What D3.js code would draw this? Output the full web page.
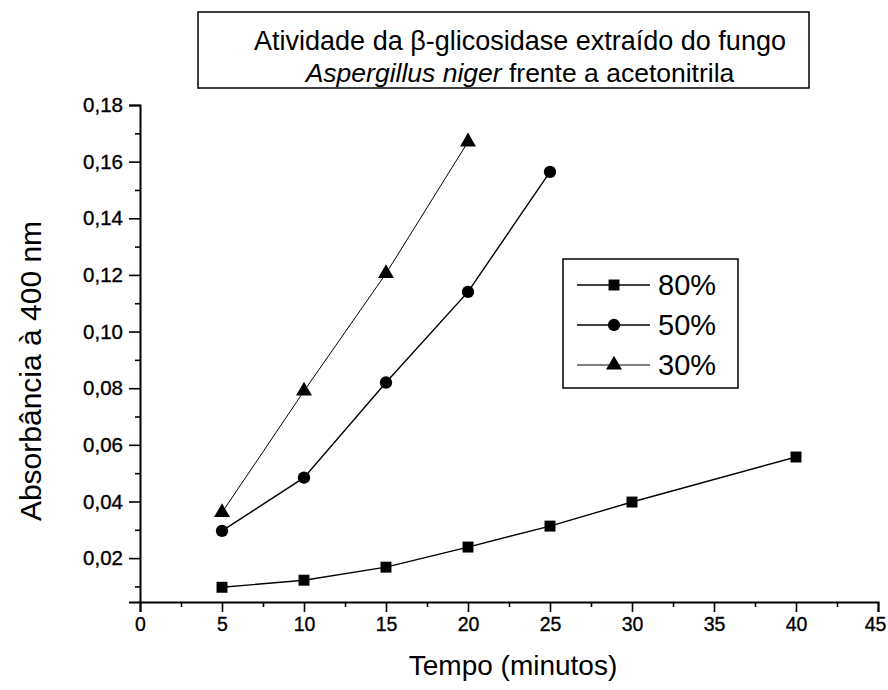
<!DOCTYPE html>
<html><head><meta charset="utf-8">
<script src="https://cdn.jsdelivr.net/npm/d3@7"></script>
<style>
body{margin:0;background:#fff;}
svg{display:block;font-family:"Liberation Sans",Arial,sans-serif;}
</style></head>
<body>
<svg id="c" width="888" height="690"></svg>
<script>
const times80 = [5, 10, 15, 20, 25, 30, 40];
const values80 = [0.0097, 0.0122, 0.0168, 0.0239, 0.0313, 0.0398, 0.0557];
const times50 = [5, 10, 15, 20, 25];
const values50 = [0.0296, 0.0484, 0.0820, 0.1140, 0.1564];
const times30 = [5, 10, 15, 20];
const values30 = [0.0361, 0.0790, 0.1205, 0.1670];
const seriesLabels = ["80%", "50%", "30%"];
const xTicks = [0, 5, 10, 15, 20, 25, 30, 35, 40, 45];
const yTicks = [0.02, 0.04, 0.06, 0.08, 0.10, 0.12, 0.14, 0.16, 0.18];
const titleLine1 = "Atividade da β-glicosidase extraído do fungo";
const titleItalic = "Aspergillus niger";
const titleRest = " frente a acetonitrila";
const xLabel = "Tempo (minutos)";
const yLabel = "Absorbância à 400 nm";

const FONT = "Liberation Sans, Arial, sans-serif";
const svg = d3.select("#c");
const x = d3.scaleLinear().domain([0, 45]).range([140, 878]);
const y = d3.scaleLinear().domain([0.0045, 0.18]).range([602, 105]);

const fmt = v => d3.format(".2f")(v).replace(".", ",");
const xMinor = d3.range(2.5, 45, 5);
const yMinor = d3.range(0.01, 0.18, 0.02);

const gx = svg.append("g").attr("transform", "translate(0,602)");
gx.call(d3.axisBottom(x).tickValues(xMinor).tickSize(5).tickFormat(""))
  .call(g => g.select(".domain").remove());
gx.append("g").call(d3.axisBottom(x).tickValues(xTicks).tickSize(10).tickPadding(5).tickFormat(d3.format("d")))
  .call(g => g.selectAll("text").attr("font-size", 19.5).attr("fill", "#000").attr("font-family", FONT)
    .attr("stroke", "#000").attr("stroke-width", 0.35))
  .call(g => g.selectAll(".tick").filter(d => d === 45).select("text").attr("dx", -3));

const gy = svg.append("g").attr("transform", "translate(140,0)");
gy.call(d3.axisLeft(y).tickValues(yMinor).tickSize(5).tickFormat(""))
  .call(g => g.select(".domain").remove());
gy.append("g").call(d3.axisLeft(y).tickValues(yTicks).tickSize(11).tickPadding(6).tickFormat(fmt))
  .call(g => g.selectAll("text").attr("font-size", 20.5).attr("fill", "#000").attr("font-family", FONT)
    .attr("stroke", "#000").attr("stroke-width", 0.35));
svg.selectAll(".domain").attr("stroke", "#000").attr("stroke-width", 2);
svg.selectAll(".tick line").attr("stroke", "#000").attr("stroke-width", 1.6);

// series
const series = [
  {t: times80, v: values80, shape: d3.symbolSquare, size: 120, w: 1.4},
  {t: times50, v: values50, shape: d3.symbolCircle, size: 120, w: 1.4},
  {t: times30, v: values30, shape: d3.symbolTriangle, size: 110, w: 1.0}
];
const line = d3.line().x(d => x(d[0])).y(d => y(d[1]));
series.forEach(s => {
  const pts = s.t.map((t, i) => [t, s.v[i]]);
  svg.append("path").datum(pts).attr("d", line)
    .attr("fill", "none").attr("stroke", "#000").attr("stroke-width", s.w);
  svg.selectAll(null).data(pts).enter().append("path")
    .attr("d", d3.symbol().type(s.shape).size(s.size))
    .attr("transform", d => `translate(${x(d[0])},${y(d[1])})`)
    .attr("fill", "#000");
});

// legend
svg.append("rect").attr("x", 563).attr("y", 259).attr("width", 175).attr("height", 129)
  .attr("fill", "#fff").attr("stroke", "#000").attr("stroke-width", 1.5);
series.forEach((s, i) => {
  const ly = 285 + i * 40;
  svg.append("line").attr("x1", 577).attr("x2", 650).attr("y1", ly).attr("y2", ly)
    .attr("stroke", "#000").attr("stroke-width", s.w);
  svg.append("path").attr("d", d3.symbol().type(s.shape).size(s.size)())
    .attr("transform", `translate(614,${ly})`).attr("fill", "#000");
  svg.append("text").attr("x", 658).attr("y", ly + 10).attr("font-size", 29)
    .text(seriesLabels[i]);
});

// title box
svg.append("rect").attr("x", 198).attr("y", 12).attr("width", 611).attr("height", 76)
  .attr("fill", "#fff").attr("stroke", "#000").attr("stroke-width", 1.5);
svg.append("text").attr("x", 520).attr("y", 50).attr("text-anchor", "middle")
  .attr("font-size", 27).text(titleLine1);
const t2 = svg.append("text").attr("x", 520).attr("y", 82).attr("text-anchor", "middle").attr("font-size", 26.5);
t2.append("tspan").attr("font-style", "italic").text(titleItalic);
t2.append("tspan").text(titleRest);

// axis labels
svg.append("text").attr("x", 513).attr("y", 675).attr("text-anchor", "middle")
  .attr("font-size", 28).text(xLabel);
svg.append("text").attr("transform", "translate(41,371) rotate(-90)").attr("text-anchor", "middle")
  .attr("font-size", 30).text(yLabel);
</script>
</body></html>
